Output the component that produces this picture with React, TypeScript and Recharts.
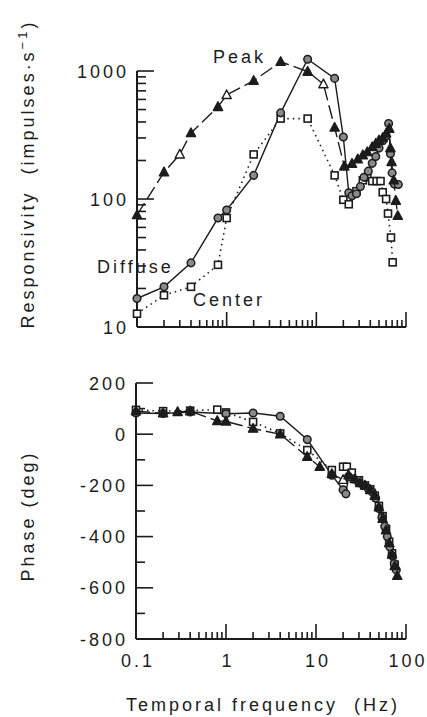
import React from 'react';
import { LineChart, Line, XAxis, YAxis, ReferenceLine } from 'recharts';

const FONT = '"Liberation Sans", Arial, Helvetica, sans-serif';
const INK = '#1c1c1c';

// ---------- axis ticks ----------
const freqTicks = [0.1, 0.2, 0.3, 0.4, 0.5, 0.6, 0.7, 0.8, 0.9, 1, 2, 3, 4, 5, 6, 7, 8, 9, 10, 20, 30, 40, 50, 60, 70, 80, 90, 100];
const freqMajorTicks = [0.1, 1, 10, 100];
const freqTickLabels = ['0.1', '1', '10', '100'];
const freqRange = [0.1, 100];

const respTicks = [10, 20, 30, 40, 50, 60, 70, 80, 90, 100, 200, 300, 400, 500, 600, 700, 800, 900, 1000];
const respMajorTicks = [10, 100, 1000];
const respTickLabels = ['10', '100', '1000'];
const respRange = [10, 1334];
const respAxisTop = 1000;

const phaseTicks = [-800, -700, -600, -500, -400, -300, -200, -100, 0, 100, 200];
const phaseMajorTicks = [-800, -600, -400, -200, 0, 200];
const phaseTickLabels = ['-800', '-600', '-400', '-200', '0', '200'];
const phaseDomain = [-800, 200];

// ---------- responsivity (impulses/s) ----------
const respPeakFreq = [0.1, 0.2, 0.3, 0.4, 0.8, 1, 2, 4, 8, 12, 16, 20.5, 25, 29, 33, 37, 42, 46, 50, 55, 60, 65, 67, 69, 73, 77, 81];
const respPeakVal = [75, 162, 223, 328, 525, 650, 840, 1180, 990, 790, 362, 180, 189, 205, 220, 233, 255, 271, 288, 300, 325, 355, 250, 195, 140, 97, 74];

const respDiffuseFreq = [0.1, 0.2, 0.4, 0.8, 1, 2, 4, 8, 16, 20, 23, 25, 28, 31, 34, 38, 42, 46, 50, 55, 60, 64, 67, 70, 74, 82];
const respDiffuseVal = [16.7, 20.6, 31.7, 71, 82, 153, 471, 1235, 876, 305, 112, 106, 110, 125, 148, 165, 190, 215, 250, 285, 310, 389, 226, 160, 131, 130];

const respCenterFreq = [0.1, 0.2, 0.4, 0.8, 1, 2, 4, 8, 16, 20, 23, 28, 33, 37, 42, 47, 52, 55, 60, 63, 68, 71];
const respCenterVal = [12.7, 17.7, 20.6, 30.6, 71, 223, 425, 425, 153, 98.6, 91, 115, 140, 148, 138, 138, 138, 113, 100, 77, 50, 32];

// ---------- phase (deg) ----------
const phasePeakFreq = [0.1, 0.2, 0.29, 0.4, 0.8, 1, 2, 4, 8, 11, 15, 20, 23, 27, 31, 35, 40, 45, 50, 55, 60, 65, 70, 75, 80];
const phasePeakVal = [90, 82, 87, 90, 52, 50, 22, 0, -88, -127, -155, -178, -160, -175, -190, -200, -218, -240, -285, -330, -375, -425, -470, -515, -553];

const phaseDiffuseFreq = [0.1, 0.2, 0.4, 1, 2, 4, 8, 15, 20, 21.5, 23, 26, 30, 34, 38, 42, 46, 50, 54, 58, 62, 66, 70, 74, 78];
const phaseDiffuseVal = [83, 81, 87, 80, 83, 70, -21, -160, -217, -233, -165, -175, -190, -200, -212, -225, -250, -290, -325, -360, -400, -440, -475, -505, -530];

const phaseCenterFreq = [0.1, 0.2, 0.4, 0.8, 1, 2, 4, 8, 15, 20, 22, 25, 30, 35, 40, 45, 50, 55, 60, 65, 70, 75];
const phaseCenterVal = [95, 90, 92, 96, 85, 48, 3, -62, -140, -127, -127, -150, -180, -200, -215, -240, -280, -320, -370, -420, -465, -510];

// marker styling (which Peak triangles are drawn open)
const respPeakOpen = [2, 5, 9];
const phasePeakOpen = [11];

// logarithmic axes: the library's linear scale is fed log10 values
const lg = (v: number) => Math.log10(v);
const logLog = (fs: number[], vs: number[]) => fs.map((f, i) => ({ x: lg(f), y: lg(vs[i]) }));
const logLin = (fs: number[], vs: number[]) => fs.map((f, i) => ({ x: lg(f), y: vs[i] }));

const respPeak = logLog(respPeakFreq, respPeakVal);
const respDiffuse = logLog(respDiffuseFreq, respDiffuseVal);
const respCenter = logLog(respCenterFreq, respCenterVal);
const phasePeak = logLin(phasePeakFreq, phasePeakVal);
const phaseDiffuse = logLin(phaseDiffuseFreq, phaseDiffuseVal);
const phaseCenter = logLin(phaseCenterFreq, phaseCenterVal);

const freqTickPos = freqTicks.map(lg);
const respTickPos = respTicks.map(lg);
const freqDomain = freqRange.map(lg);
const respDomain = respRange.map(lg);

// ---------- layout ----------
const W = 427;
const Y_AXIS_W = 60;
const TOP = { h: 345, margin: { top: 55, right: 21, bottom: 8, left: 77 }, xAxisH: 10 };
const BOT = { h: 377, margin: { top: 43, right: 21, bottom: 38, left: 76 }, xAxisH: 40 };
const plotW = (c: typeof TOP) => W - c.margin.left - c.margin.right - Y_AXIS_W;
const plotH = (c: typeof TOP) => c.h - c.margin.top - c.margin.bottom - c.xAxisH;

const X_MINOR = 7;
const X_MAJOR = 15;
const Y_MINOR = 9;
const Y_MAJOR = 17;

const textStyle = { fontFamily: FONT, fontSize: 18, letterSpacing: 3, fill: INK } as const;

// inward tick marks, drawn as reference segments in data space
const xTickMarks = (yDom: number[], yPerPx: number, key: string) =>
  freqTicks.slice(1).map((t) => {
    const len = freqMajorTicks.includes(t) ? X_MAJOR : X_MINOR;
    return (
      <ReferenceLine
        key={`${key}x${t}`}
        segment={[{ x: lg(t), y: yDom[0] }, { x: lg(t), y: yDom[0] + len * yPerPx }]}
        stroke={INK}
        strokeWidth={1.6}
      />
    );
  });

const yTickMarks = (vals: number[], pos: number[], majors: number[], xPerPx: number, key: string) =>
  vals.slice(1).map((t, i) => {
    const len = majors.includes(t) ? Y_MAJOR : Y_MINOR;
    const p = pos[i + 1];
    return (
      <ReferenceLine
        key={`${key}y${t}`}
        segment={[{ x: freqDomain[0], y: p }, { x: freqDomain[0] + len * xPerPx, y: p }]}
        stroke={INK}
        strokeWidth={1.6}
      />
    );
  });

const makeXTick = (showLabel: boolean) => (props: any) => {
  const { x, y, index } = props;
  const v = freqTicks[index];
  const mi = freqMajorTicks.indexOf(v);
  if (!showLabel || mi < 0) return <g />;
  return (
    <text x={Number(x) + 2} y={Number(y) + 28} textAnchor="middle" style={textStyle}>
      {freqTickLabels[mi]}
    </text>
  );
};

const makeYTick = (values: number[], majors: number[], labels: string[]) => (props: any) => {
  const { x, y, index } = props;
  const mi = majors.indexOf(values[index]);
  if (mi < 0) return <g />;
  return (
    <text x={Number(x) - 8} y={Number(y) + 6.5} textAnchor="end" style={textStyle}>
      {labels[mi]}
    </text>
  );
};

const TopXTick = makeXTick(false);
const BottomXTick = makeXTick(true);
const RespTick = makeYTick(respTicks, respMajorTicks, respTickLabels);
const PhaseTick = makeYTick(phaseTicks, phaseMajorTicks, phaseTickLabels);

const circleDot = (p: any) =>
  p.cx == null ? <g key={`c${p.index}`} /> : (
    <circle key={`c${p.index}`} cx={p.cx} cy={p.cy} r={3.8} fill="#8a8a8a" stroke={INK} strokeWidth={1.5} />
  );

const squareDot = (p: any) =>
  p.cx == null ? <g key={`s${p.index}`} /> : (
    <rect key={`s${p.index}`} x={p.cx - 3.5} y={p.cy - 3.5} width={7} height={7} fill="#fff" stroke={INK} strokeWidth={1.6} />
  );

const triangleDot = (open: number[]) => (p: any) => {
  if (p.cx == null) return <g key={`t${p.index}`} />;
  const isOpen = open.includes(p.index);
  const pts = `${p.cx},${p.cy - 5} ${p.cx - 4.6},${p.cy + 3.6} ${p.cx + 4.6},${p.cy + 3.6}`;
  return (
    <polygon key={`t${p.index}`} points={pts} fill={isOpen ? '#fff' : INK} stroke={INK} strokeWidth={1.4} strokeLinejoin="round" />
  );
};

export default function App() {
  const topXPerPx = (freqDomain[1] - freqDomain[0]) / plotW(TOP);
  const topYPerPx = (respDomain[1] - respDomain[0]) / plotH(TOP);
  const botXPerPx = (freqDomain[1] - freqDomain[0]) / plotW(BOT);
  const botYPerPx = (phaseDomain[1] - phaseDomain[0]) / plotH(BOT);

  return (
    <div style={{ position: 'relative', width: W, height: 717, background: '#fff' }}>
      <style>{'html,body{margin:0;padding:0;background:#fff}'}</style>
      {/* titles & annotations (underneath the transparent chart surfaces) */}
      <svg width={W} height={717} style={{ position: 'absolute', left: 0, top: 0 }}>
        <text x={213} y={63} style={textStyle}>Peak</text>
        <text x={97} y={273} style={textStyle}>Diffuse</text>
        <text x={193} y={306} style={textStyle}>Center</text>
        <text transform="translate(34,174) rotate(-90)" textAnchor="middle" style={textStyle}>
          Responsivity{'\u00a0\u00a0'}(impulses·s
          <tspan dy={-7} style={{ fontSize: 13 }}>−1</tspan>
          <tspan dy={7}>)</tspan>
        </text>
        <text transform="translate(34,516) rotate(-90)" textAnchor="middle" style={textStyle}>
          Phase{'\u00a0'}(deg)
        </text>
        <text x={263} y={711} textAnchor="middle" style={textStyle}>
          Temporal frequency{'\u00a0\u00a0'}(Hz)
        </text>
      </svg>

      {/* Responsivity chart */}
      <div style={{ position: 'absolute', left: 0, top: 0, width: W, height: TOP.h }}>
        <LineChart width={W} height={TOP.h} margin={TOP.margin}>
          <XAxis
            type="number"
            dataKey="x"
            domain={freqDomain}
            ticks={freqTickPos}
            interval={0}
            tickSize={0}
            tickMargin={0}
            tickLine={false}
            axisLine={{ stroke: INK, strokeWidth: 2 }}
            tick={TopXTick}
            height={TOP.xAxisH}
          />
          <YAxis
            type="number"
            dataKey="y"
            domain={respDomain}
            ticks={respTickPos}
            interval={0}
            tickSize={0}
            tickMargin={0}
            tickLine={false}
            axisLine={false}
            tick={RespTick}
            width={Y_AXIS_W}
          />
          <ReferenceLine segment={[{ x: freqDomain[0], y: respDomain[0] }, { x: freqDomain[0], y: lg(respAxisTop) }]} stroke={INK} strokeWidth={2} />
          {xTickMarks(respDomain, topYPerPx, 'top')}
          {yTickMarks(respTicks, respTickPos, respMajorTicks, topXPerPx, 'top')}
          <Line data={respCenter} dataKey="y" type="linear" stroke={INK} strokeWidth={1.6} strokeDasharray="1.5 4" dot={squareDot} isAnimationActive={false} />
          <Line data={respDiffuse} dataKey="y" type="linear" stroke={INK} strokeWidth={1.4} dot={circleDot} isAnimationActive={false} />
          <Line data={respPeak} dataKey="y" type="linear" stroke={INK} strokeWidth={1.4} strokeDasharray="14 5" dot={triangleDot(respPeakOpen)} isAnimationActive={false} />
        </LineChart>
      </div>

      {/* Phase chart */}
      <div style={{ position: 'absolute', left: 0, top: 340, width: W, height: BOT.h }}>
        <LineChart width={W} height={BOT.h} margin={BOT.margin}>
          <XAxis
            type="number"
            dataKey="x"
            domain={freqDomain}
            ticks={freqTickPos}
            interval={0}
            tickSize={0}
            tickMargin={0}
            tickLine={false}
            axisLine={{ stroke: INK, strokeWidth: 2 }}
            tick={BottomXTick}
            height={BOT.xAxisH}
          />
          <YAxis
            type="number"
            dataKey="y"
            domain={phaseDomain}
            ticks={phaseTicks}
            interval={0}
            tickSize={0}
            tickMargin={0}
            tickLine={false}
            axisLine={{ stroke: INK, strokeWidth: 2 }}
            tick={PhaseTick}
            width={Y_AXIS_W}
          />
          {xTickMarks(phaseDomain, botYPerPx, 'bot')}
          {yTickMarks(phaseTicks, phaseTicks, phaseMajorTicks, botXPerPx, 'bot')}
          <Line data={phaseCenter} dataKey="y" type="linear" stroke={INK} strokeWidth={1.6} strokeDasharray="1.5 4" dot={squareDot} isAnimationActive={false} />
          <Line data={phaseDiffuse} dataKey="y" type="linear" stroke={INK} strokeWidth={1.4} dot={circleDot} isAnimationActive={false} />
          <Line data={phasePeak} dataKey="y" type="linear" stroke={INK} strokeWidth={1.4} strokeDasharray="14 5" dot={triangleDot(phasePeakOpen)} isAnimationActive={false} />
        </LineChart>
      </div>
    </div>
  );
}
